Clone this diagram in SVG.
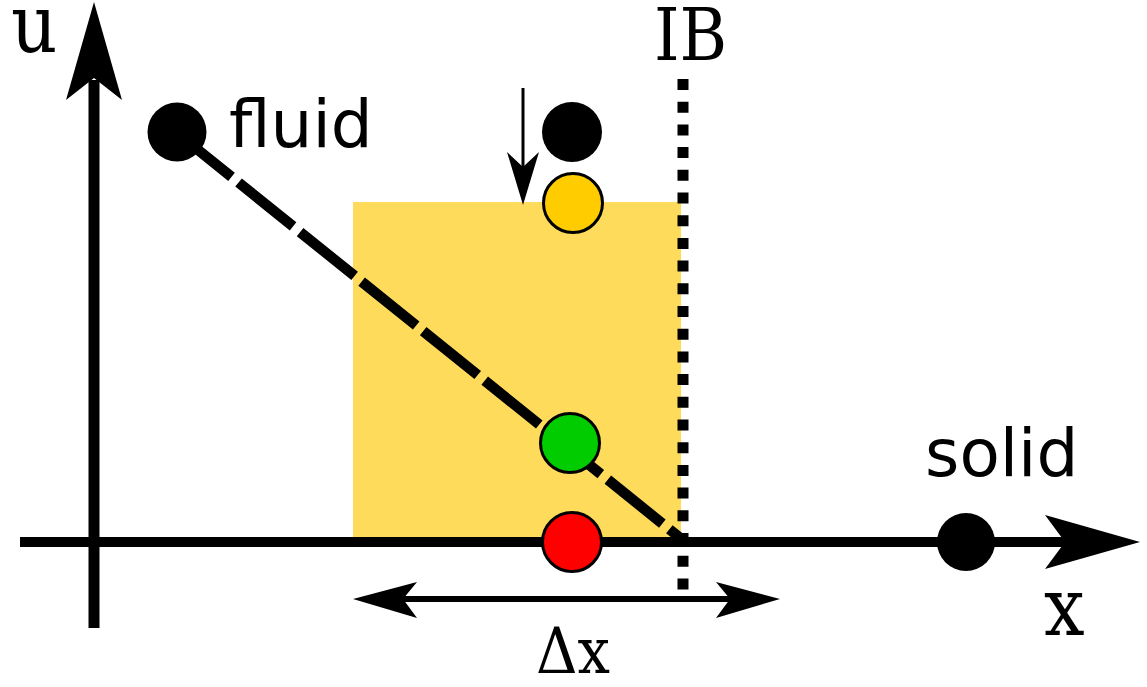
<svg xmlns="http://www.w3.org/2000/svg" width="1147" height="687" viewBox="0 0 1147 687">
<style>
.lbl{font-family:"DejaVu Sans","Verdana",sans-serif;font-size:66px;fill:#000}
.ser{font-family:"DejaVu Serif Condensed","DejaVu Serif","Liberation Serif",serif;font-stretch:condensed;fill:#000}
.pt{stroke:#000;stroke-width:3}
</style>
<rect width="1147" height="687" fill="#fff"/>
<g id="region"><rect x="353" y="202" width="328" height="339" fill="#fedb5a"/></g>
<g id="connectors">
<line x1="94" y1="628" x2="94" y2="80" stroke="#000" stroke-width="11"/>
<path d="M94,2 L122,100 L94,78 L66,100 Z" fill="#000"/>
<line x1="20" y1="542" x2="1068" y2="542" stroke="#000" stroke-width="10"/>
<path d="M1140,542 L1045,515 L1065,542 L1045,569 Z" fill="#000"/>
<line x1="683" y1="79" x2="683" y2="592" stroke="#000" stroke-width="11" stroke-dasharray="11 11.7"/>
<line x1="177" y1="133" x2="684" y2="541" stroke="#000" stroke-width="10.5" stroke-dasharray="70 9"/>
<line x1="523" y1="88" x2="523" y2="170" stroke="#000" stroke-width="3"/>
<path d="M523,205 L539,152 L523,167 L507,152 Z" fill="#000"/>
<line x1="400" y1="599" x2="735" y2="599" stroke="#000" stroke-width="6"/>
<path d="M353,599 L417,582 L403,599 L417,618 Z" fill="#000"/>
<path d="M780,599 L716,582 L730,599 L716,618 Z" fill="#000"/>
</g>
<g id="fluid"><circle cx="177" cy="132" r="29.5" fill="#000"/><text class="lbl" x="229" y="147">fluid</text></g>
<g id="solid"><circle cx="966" cy="542" r="29" fill="#000"/><text class="lbl" x="925" y="476">solid</text></g>
<g id="top-point"><circle cx="572" cy="132" r="30" fill="#000"/></g>
<g id="yellow-point"><circle cx="573" cy="203" r="29.5" fill="#ffcc00" class="pt"/></g>
<g id="green-point"><circle cx="570" cy="443" r="29.5" fill="#00cc00" class="pt"/></g>
<g id="red-point"><circle cx="572" cy="542" r="29.5" fill="#ff0000" class="pt"/></g>
<g id="labels">
<text class="ser" x="11" y="52" font-size="80">u</text>
<text class="ser" x="654" y="60" font-size="72">IB</text>
<text class="ser" x="1044" y="635" font-size="80">x</text>
<text class="ser" x="536" y="673" font-size="64">Δx</text>
</g>
</svg>
